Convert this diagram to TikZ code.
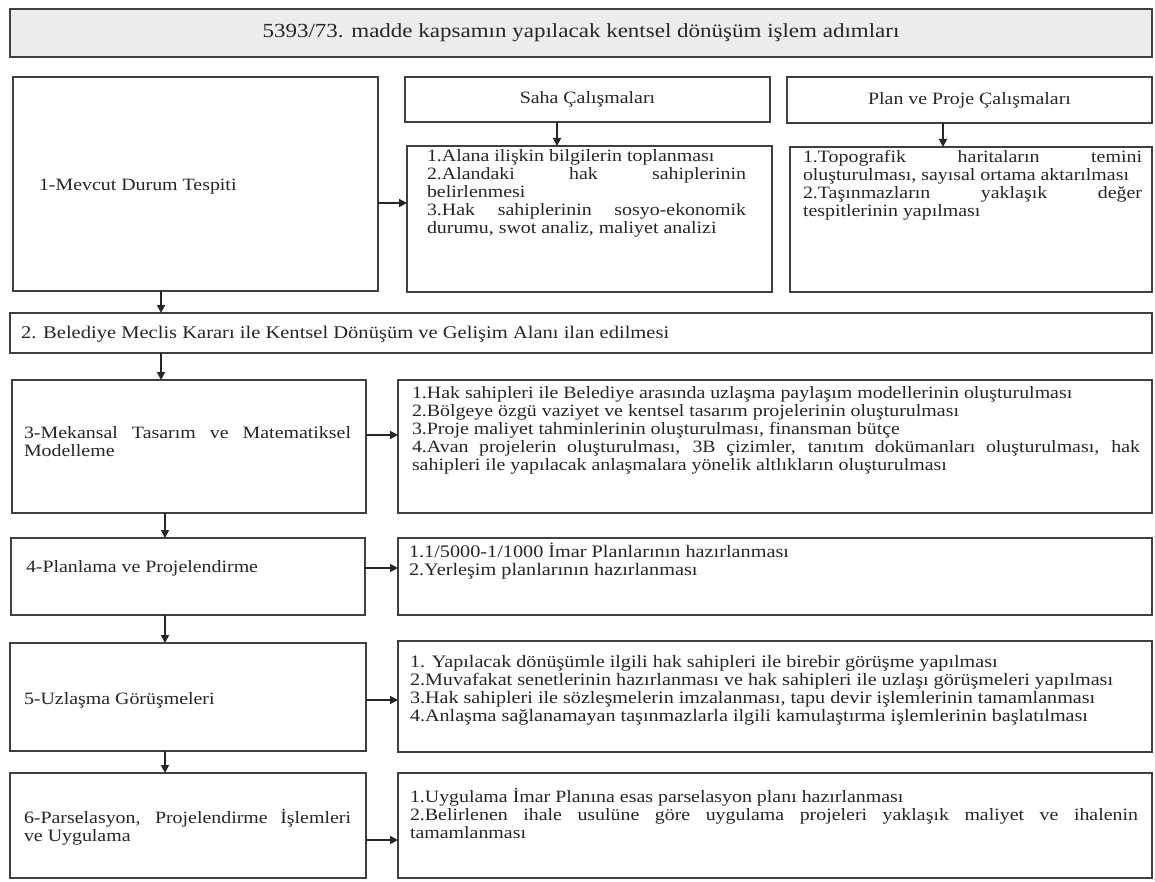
\documentclass[tikz,border=0pt]{standalone}
\usepackage{fontspec}
\setmainfont{Liberation Serif}[FakeStretch=1.15]
\usetikzlibrary{arrows.meta,fit}
\newcommand\bodyfont{\fontsize{17.3}{18}\selectfont\lineskiplimit=-100pt }
\newcommand\jline[1]{\makebox[\linewidth][s]{#1}\par}
\newcommand\lline[1]{\makebox[\linewidth][l]{#1}\par}
\newcommand\tpar[2]{\parbox[t]{#1}{\bodyfont #2}}
\newcommand\cpar[2]{\parbox{#1}{\bodyfont #2}}
\begin{document}
\begin{tikzpicture}[x=1pt,y=-1pt,font=\bodyfont,
  box/.style={draw=black!75,line width=2.3pt,fill=white,inner sep=0pt,outer sep=0pt},
  txt/.style={inner sep=0pt,outer sep=0pt,text=black!85},
  arr/.style={draw=black!85,line width=1.8pt,-{Triangle[length=8pt,width=8pt]}}]
\useasboundingbox (0,0) rectangle (1155,882);
% boxes
\node[box,fill=black!7,fit={(10,9) (1152,57)}] (title) {};
\node[box,fit={(13,77) (378,291)}] (b1) {};
\node[box,fit={(405,77) (770,122)}] (s) {};
\node[box,fit={(407,146) (772,292)}] (a) {};
\node[box,fit={(787,77) (1152,123)}] (p) {};
\node[box,fit={(790,147) (1152,292)}] (tp) {};
\node[box,fit={(10,313) (1152,353)}] (b2) {};
\node[box,fit={(12,380) (366,513)}] (b3) {};
\node[box,fit={(398,380) (1152,513)}] (b3r) {};
\node[box,fit={(11,538) (365,615)}] (b4) {};
\node[box,fit={(398,538) (1152,615)}] (b4r) {};
\node[box,fit={(10,643) (366,751)}] (b5) {};
\node[box,fit={(398,641) (1152,752)}] (b5r) {};
\node[box,fit={(10,773) (366,878)}] (b6) {};
\node[box,fit={(398,773) (1152,878)}] (b6r) {};
% texts
\node[txt] (titlet) at (title.center) {\fontsize{20}{22}\selectfont 5393/73. madde kapsamın yapılacak kentsel dönüşüm işlem adımları};
\node[txt,anchor=west] (b1t) at (39,187) {1-Mevcut Durum Tespiti};
\node[txt] (st) at (s.center) {Saha Çalışmaları};
\node[txt] (pt) at (p.center) {Plan ve Proje Çalışmaları};
\node[txt,anchor=base west] (at) at (427,162) {\tpar{319pt}{%
\lline{1.Alana ilişkin bilgilerin toplanması}
\jline{2.Alandaki hak sahiplerinin}
\lline{belirlenmesi}
\jline{3.Hak sahiplerinin sosyo-ekonomik}
\lline{durumu, swot analiz, maliyet analizi}}};
\node[txt,anchor=base west] (tpt) at (803,163) {\tpar{339pt}{%
\jline{1.Topografik haritaların temini}
\lline{oluşturulması, sayısal ortama aktarılması}
\jline{2.Taşınmazların yaklaşık değer}
\lline{tespitlerinin yapılması}}};
\node[txt,anchor=west] (b2t) at (21,334) {\fontsize{17.85}{18}\selectfont 2. Belediye Meclis Kararı ile Kentsel Dönüşüm ve Gelişim Alanı ilan edilmesi};
\node[txt,anchor=west] (b3t) at (24,442) {\cpar{327pt}{%
\jline{3-Mekansal Tasarım ve Matematiksel}
\lline{Modelleme}}};
\node[txt,anchor=base west] (b3rt) at (412,398) {\tpar{728pt}{%
\lline{1.Hak sahipleri ile Belediye arasında uzlaşma paylaşım modellerinin oluşturulması}
\lline{2.Bölgeye özgü vaziyet ve kentsel tasarım projelerinin oluşturulması}
\lline{3.Proje maliyet tahminlerinin oluşturulması, finansman bütçe}
\jline{4.Avan projelerin oluşturulması, 3B çizimler, tanıtım dokümanları oluşturulması, hak}
\lline{sahipleri ile yapılacak anlaşmalara yönelik altlıkların oluşturulması}}};
\node[txt,anchor=west] (b4t) at (26,568) {4-Planlama ve Projelendirme};
\node[txt,anchor=base west] (b4rt) at (409,557) {\parbox[t]{728pt}{\fontsize{17.6}{18}\selectfont\lineskiplimit=-100pt
\lline{1.1/5000-1/1000 İmar Planlarının hazırlanması}
\lline{2.Yerleşim planlarının hazırlanması}}};
\node[txt,anchor=west] (b5t) at (24,700) {5-Uzlaşma Görüşmeleri};
\node[txt,anchor=base west] (b5rt) at (410,667) {\parbox[t]{728pt}{\fontsize{17.5}{18}\selectfont\lineskiplimit=-100pt
\lline{1. Yapılacak dönüşümle ilgili hak sahipleri ile birebir görüşme yapılması}
\lline{2.Muvafakat senetlerinin hazırlanması ve hak sahipleri ile uzlaşı görüşmeleri yapılması}
\lline{3.Hak sahipleri ile sözleşmelerin imzalanması, tapu devir işlemlerinin tamamlanması}
\lline{4.Anlaşma sağlanamayan taşınmazlarla ilgili kamulaştırma işlemlerinin başlatılması}}};
\node[txt,anchor=west] (b6t) at (24,827) {\cpar{327pt}{%
\jline{6-Parselasyon, Projelendirme İşlemleri}
\lline{ve Uygulama}}};
\node[txt,anchor=base west] (b6rt) at (410,802) {\tpar{728pt}{%
\lline{1.Uygulama İmar Planına esas parselasyon planı hazırlanması}
\jline{2.Belirlenen ihale usulüne göre uygulama projeleri yaklaşık maliyet ve ihalenin}
\lline{tamamlanması}}};
% connector guides
\coordinate (v1) at (161,0);
\coordinate (v2) at (165,0);
\coordinate (vs) at (557,0);
\coordinate (vp) at (943,0);
\coordinate (h1) at (0,203);
\coordinate (h3) at (0,435);
\coordinate (h4) at (0,568);
\coordinate (h5) at (0,700);
\coordinate (h6) at (0,840);
% arrows
\draw[arr] (s.south -| vs) -- (a.north -| vs);
\draw[arr] (p.south -| vp) -- (tp.north -| vp);
\draw[arr] (b1.east |- h1) -- (a.west |- h1);
\draw[arr] (b1.south -| v1) -- (b2.north -| v1);
\draw[arr] (b2.south -| v1) -- (b3.north -| v1);
\draw[arr] (b3.east |- h3) -- (b3r.west |- h3);
\draw[arr] (b3.south -| v2) -- (b4.north -| v2);
\draw[arr] (b4.east |- h4) -- (b4r.west |- h4);
\draw[arr] (b4.south -| v2) -- (b5.north -| v2);
\draw[arr] (b5.east |- h5) -- (b5r.west |- h5);
\draw[arr] (b5.south -| v2) -- (b6.north -| v2);
\draw[arr] (b6.east |- h6) -- (b6r.west |- h6);
\end{tikzpicture}
\end{document}
